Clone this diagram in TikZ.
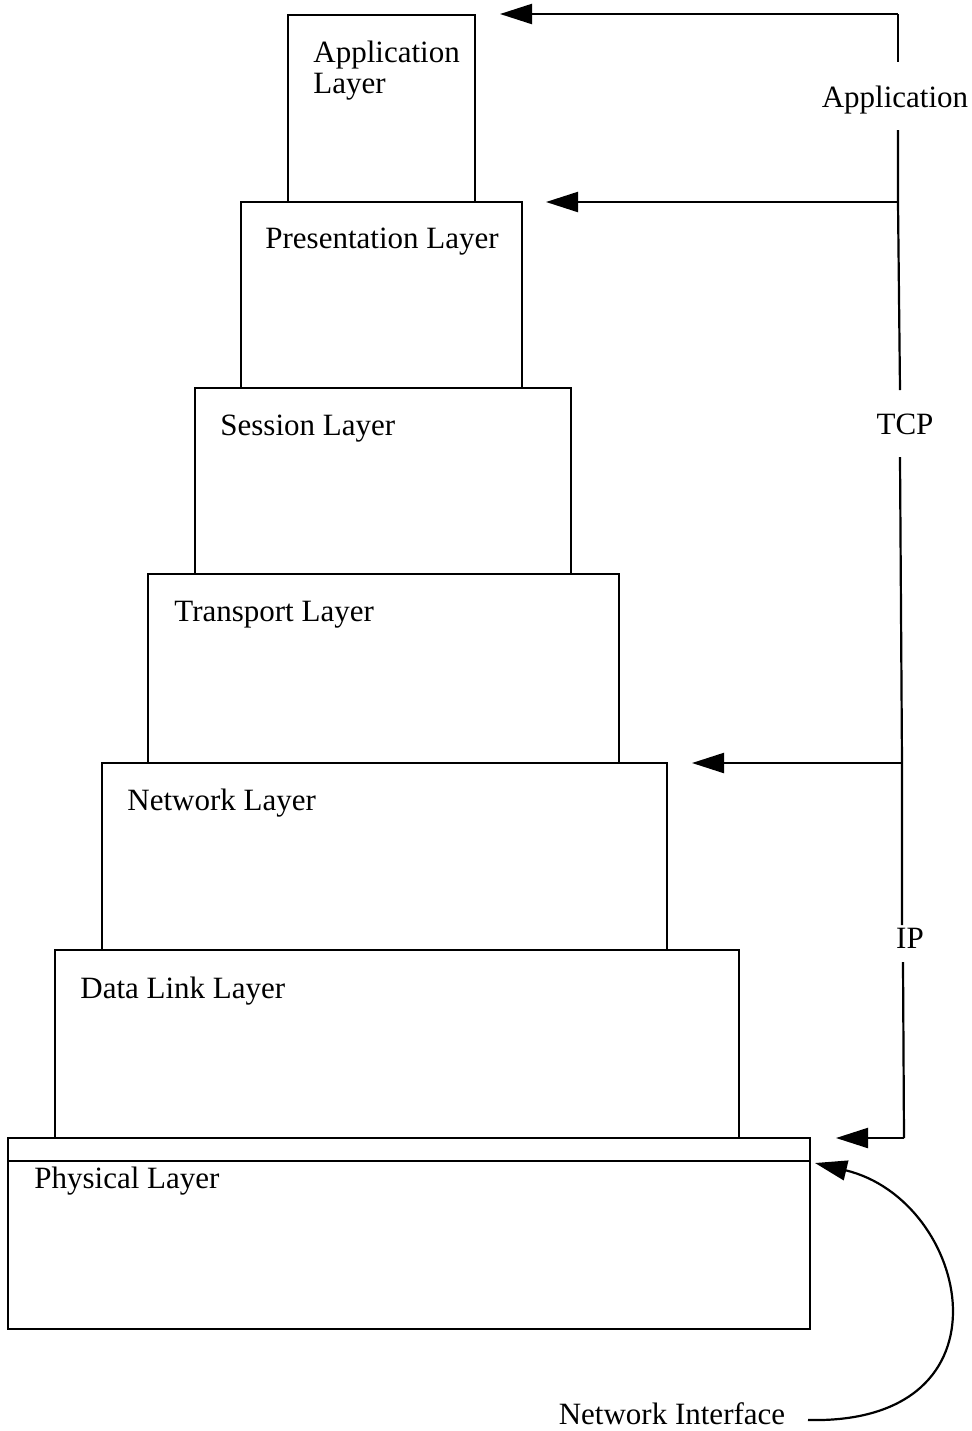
\documentclass[tikz,border=0pt]{standalone}
\usepackage{fontspec}
\setmainfont{Liberation Serif}
\usetikzlibrary{arrows.meta}
\begin{document}
\begin{tikzpicture}[x=0.5pt,y=-0.5pt,
  layer/.style={draw,line width=1pt,inner sep=0pt,rectangle},
  lbl/.style={anchor=base west,inner sep=0pt,font=\fontsize{15.5}{15.5}\selectfont,align=left},
  side/.style={anchor=base,inner sep=0pt,font=\fontsize{15.5}{15.5}\selectfont},
  wire/.style={line width=1.1pt},
  arr/.style={line width=1.1pt,-{Triangle[length=16pt,width=10pt]}}]
\useasboundingbox (0,0) rectangle (972,1431);
% layers
\node[layer,minimum width=93.5pt,minimum height=93.5pt] (app) at (381.5,108.5) {};
\node[layer,minimum width=140.5pt,minimum height=93pt] (pres) at (381.5,295) {};
\node[layer,minimum width=188pt,minimum height=93pt] (sess) at (383,481) {};
\node[layer,minimum width=235.5pt,minimum height=94.5pt] (trans) at (383.5,668.5) {};
\node[layer,minimum width=282.5pt,minimum height=93.5pt] (net) at (384.5,856.5) {};
\node[layer,minimum width=342pt,minimum height=94pt] (dl) at (397,1044) {};
\node[layer,minimum width=401pt,minimum height=95.5pt] (phys) at (409,1233.5) {};
\draw[line width=1pt] ([yshift=-12pt]phys.north west) coordinate (pl) -- ([yshift=-12pt]phys.north east) coordinate (pr);
% layer texts
\node[lbl] (tapp) at (313,93) {Application\\Layer};
\node[lbl] (tpres) at (265,248) {Presentation Layer};
\node[lbl] (tsess) at (220,435) {Session Layer};
\node[lbl] (ttrans) at (174,621) {Transport Layer};
\node[lbl] (tnet) at (127,810) {Network Layer};
\node[lbl] (tdl) at (80,998) {Data Link Layer};
\node[lbl] (tphys) at (34,1188) {Physical Layer};
% side labels
\node[side] (lapp) at (895,107) {Application};
\node[side] (ltcp) at (905,434) {TCP};
\node[side] (lip) at (910,948) {IP};
\node[side] (lni) at (672,1424) {Network Interface};
% spine coordinates
\coordinate (s0) at (898,14);
\coordinate (s1) at (898,62);
\coordinate (s2) at (898,130);
\coordinate (s3) at (898,202);
\coordinate (s4) at (900,390);
\coordinate (s5) at (900,457);
\coordinate (s6) at (902,763);
\coordinate (s7) at (902,925);
\coordinate (s8) at (903,962);
\coordinate (s9) at (904,1138);
\coordinate (a1) at (500,14);
\coordinate (a2) at (546,202);
\coordinate (a3) at (692,763);
\coordinate (a4) at (836,1138);
\coordinate (ni) at (808,1420);
\coordinate (nt) at (815,1163);
% spine
\draw[wire] (s0) -- (s1);
\draw[wire] (s2) -- (s3) -- (s4);
\draw[wire] (s5) -- (s6) -- (s7);
\draw[wire] (s8) -- (s9);
% arrows
\draw[arr] (s0) -- (a1);
\draw[arr] (s3) -- (a2);
\draw[arr] (s6) -- (a3);
\draw[arr] (s9) -- (a4);
\draw[arr] (ni) .. controls (1020,1425) and (970,1200) .. (nt);
\end{tikzpicture}
\end{document}
